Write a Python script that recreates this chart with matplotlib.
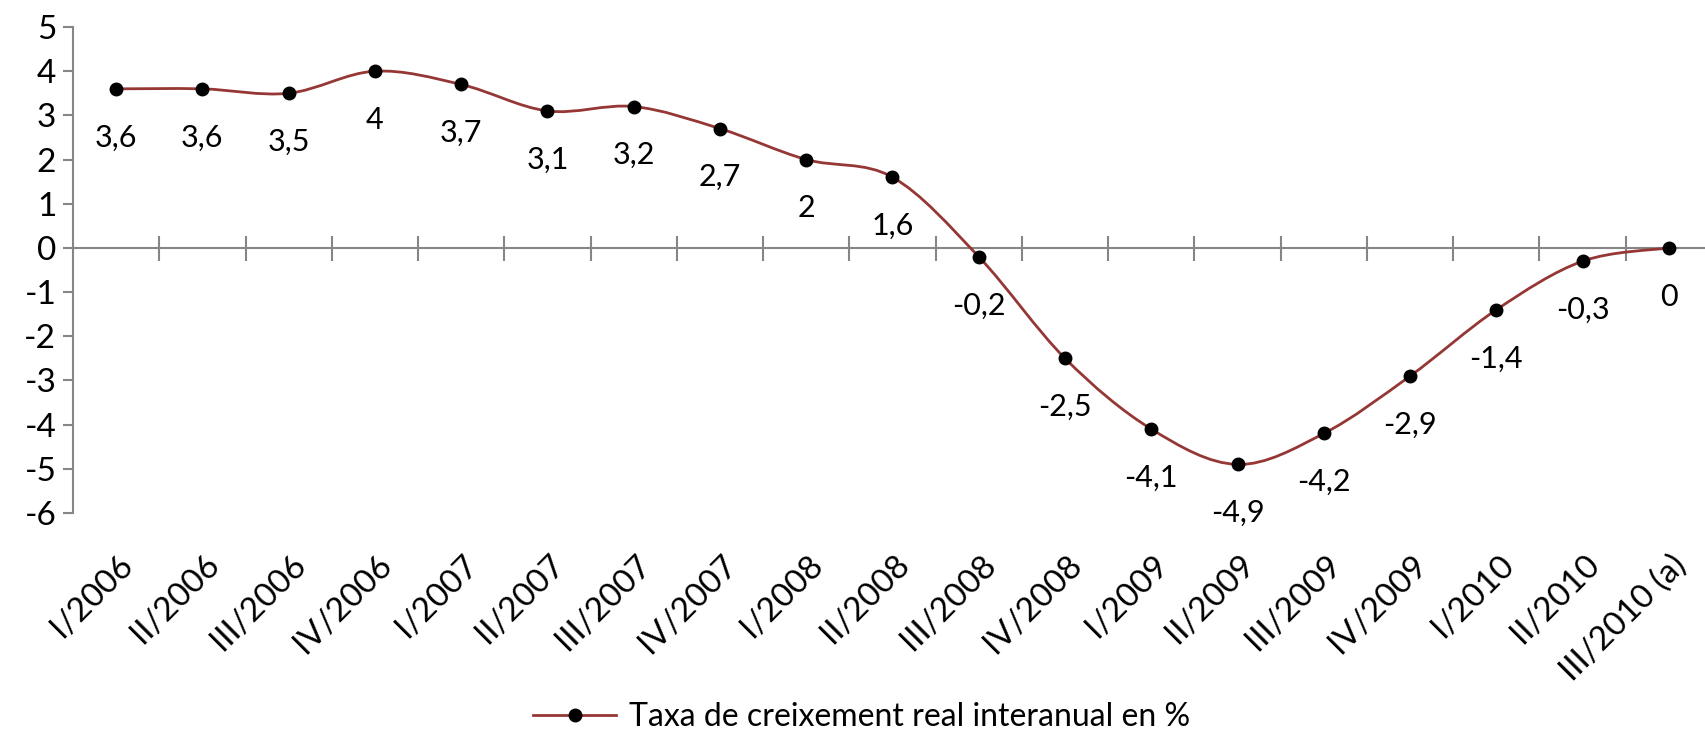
import numpy as np
import matplotlib
matplotlib.use("Agg")
from matplotlib import pyplot as plt
from matplotlib.path import Path
from matplotlib.patches import PathPatch
from matplotlib.lines import Line2D
import matplotlib.transforms as mtransforms

plt.rcParams['font.family'] = ['Lato', 'DejaVu Sans']

categories = ['I/2006', 'II/2006', 'III/2006', 'IV/2006', 'I/2007', 'II/2007',
              'III/2007', 'IV/2007', 'I/2008', 'II/2008', 'III/2008', 'IV/2008',
              'I/2009', 'II/2009', 'III/2009', 'IV/2009', 'I/2010', 'II/2010',
              'III/2010 (a)']
values = [3.6, 3.6, 3.5, 4, 3.7, 3.1, 3.2, 2.7, 2, 1.6, -0.2, -2.5,
          -4.1, -4.9, -4.2, -2.9, -1.4, -0.3, 0]
value_labels = ['3,6', '3,6', '3,5', '4', '3,7', '3,1', '3,2', '2,7', '2', '1,6',
                '-0,2', '-2,5', '-4,1', '-4,9', '-4,2', '-2,9', '-1,4', '-0,3', '0']
series_name = 'Taxa de creixement real interanual en %'

line_color = '#953735'
axis_color = '#868686'

fig = plt.figure(figsize=(17.06, 7.30), dpi=100)
ax = fig.add_axes([73/1706, 217/730, 1639/1706, 486/730])

x = np.arange(len(values))
y = np.array(values, dtype=float)

# smoothed line like excel (bezier through the points)
px = np.concatenate([[x[0]], x, [x[-1]]])
py = np.concatenate([[y[0]], y, [y[-1]]])
verts = [(x[0], y[0])]
codes = [Path.MOVETO]
for i in range(len(x) - 1):
    c1 = (x[i] + (px[i+2] - px[i]) / 6, y[i] + (py[i+2] - py[i]) / 6)
    c2 = (x[i+1] - (px[i+3] - px[i+1]) / 6, y[i+1] - (py[i+3] - py[i+1]) / 6)
    verts += [c1, c2, (x[i+1], y[i+1])]
    codes += [Path.CURVE4] * 3
ax.add_patch(PathPatch(Path(verts, codes), fc='none', ec=line_color, lw=2, zorder=3))
ax.plot(x, y, lw=0, marker='o', ms=9, color='black', zorder=4)

for xi, yi, lab in zip(x, y, value_labels):
    ax.annotate(lab, (xi, yi), xytext=(0, -35), textcoords='offset points',
                ha='center', va='center', fontsize=22, color='black')

ax.set_xlim(-0.5, 18.5)
ax.set_ylim(-6, 5)

for s in ['top', 'right']:
    ax.spines[s].set_visible(False)
ax.spines['bottom'].set_position(('data', 0))
ax.spines['bottom'].set_color(axis_color)
ax.spines['left'].set_color(axis_color)
ax.spines['bottom'].set_linewidth(1.5)
ax.spines['left'].set_linewidth(1.5)

ax.set_yticks(range(-6, 6))
ax.set_yticklabels([str(v) for v in range(-6, 6)])
ax.tick_params(axis='y', direction='out', length=7, width=1.5, color=axis_color,
               labelsize=24, pad=5)
ax.set_xticks(np.arange(0.5, 18.5, 1))
ax.set_xticklabels([])
ax.tick_params(axis='x', direction='inout', length=18, width=1.5, color=axis_color)

trans = mtransforms.blended_transform_factory(ax.transData, ax.transAxes)
for xi, lab in zip(x, categories):
    ax.text(xi + 0.02, -0.075, lab, transform=trans, rotation=45, ha='right', va='top',
            rotation_mode='anchor', fontsize=24)

handle = Line2D([], [], color=line_color, lw=2, marker='o', ms=9,
                mfc='black', mec='black')
fig.legend([handle], [series_name], loc='center', bbox_to_anchor=(0.505, 0.018),
           frameon=False, fontsize=23, handlelength=2.6, handletextpad=0.4)

plt.savefig('out.png', dpi=100)
